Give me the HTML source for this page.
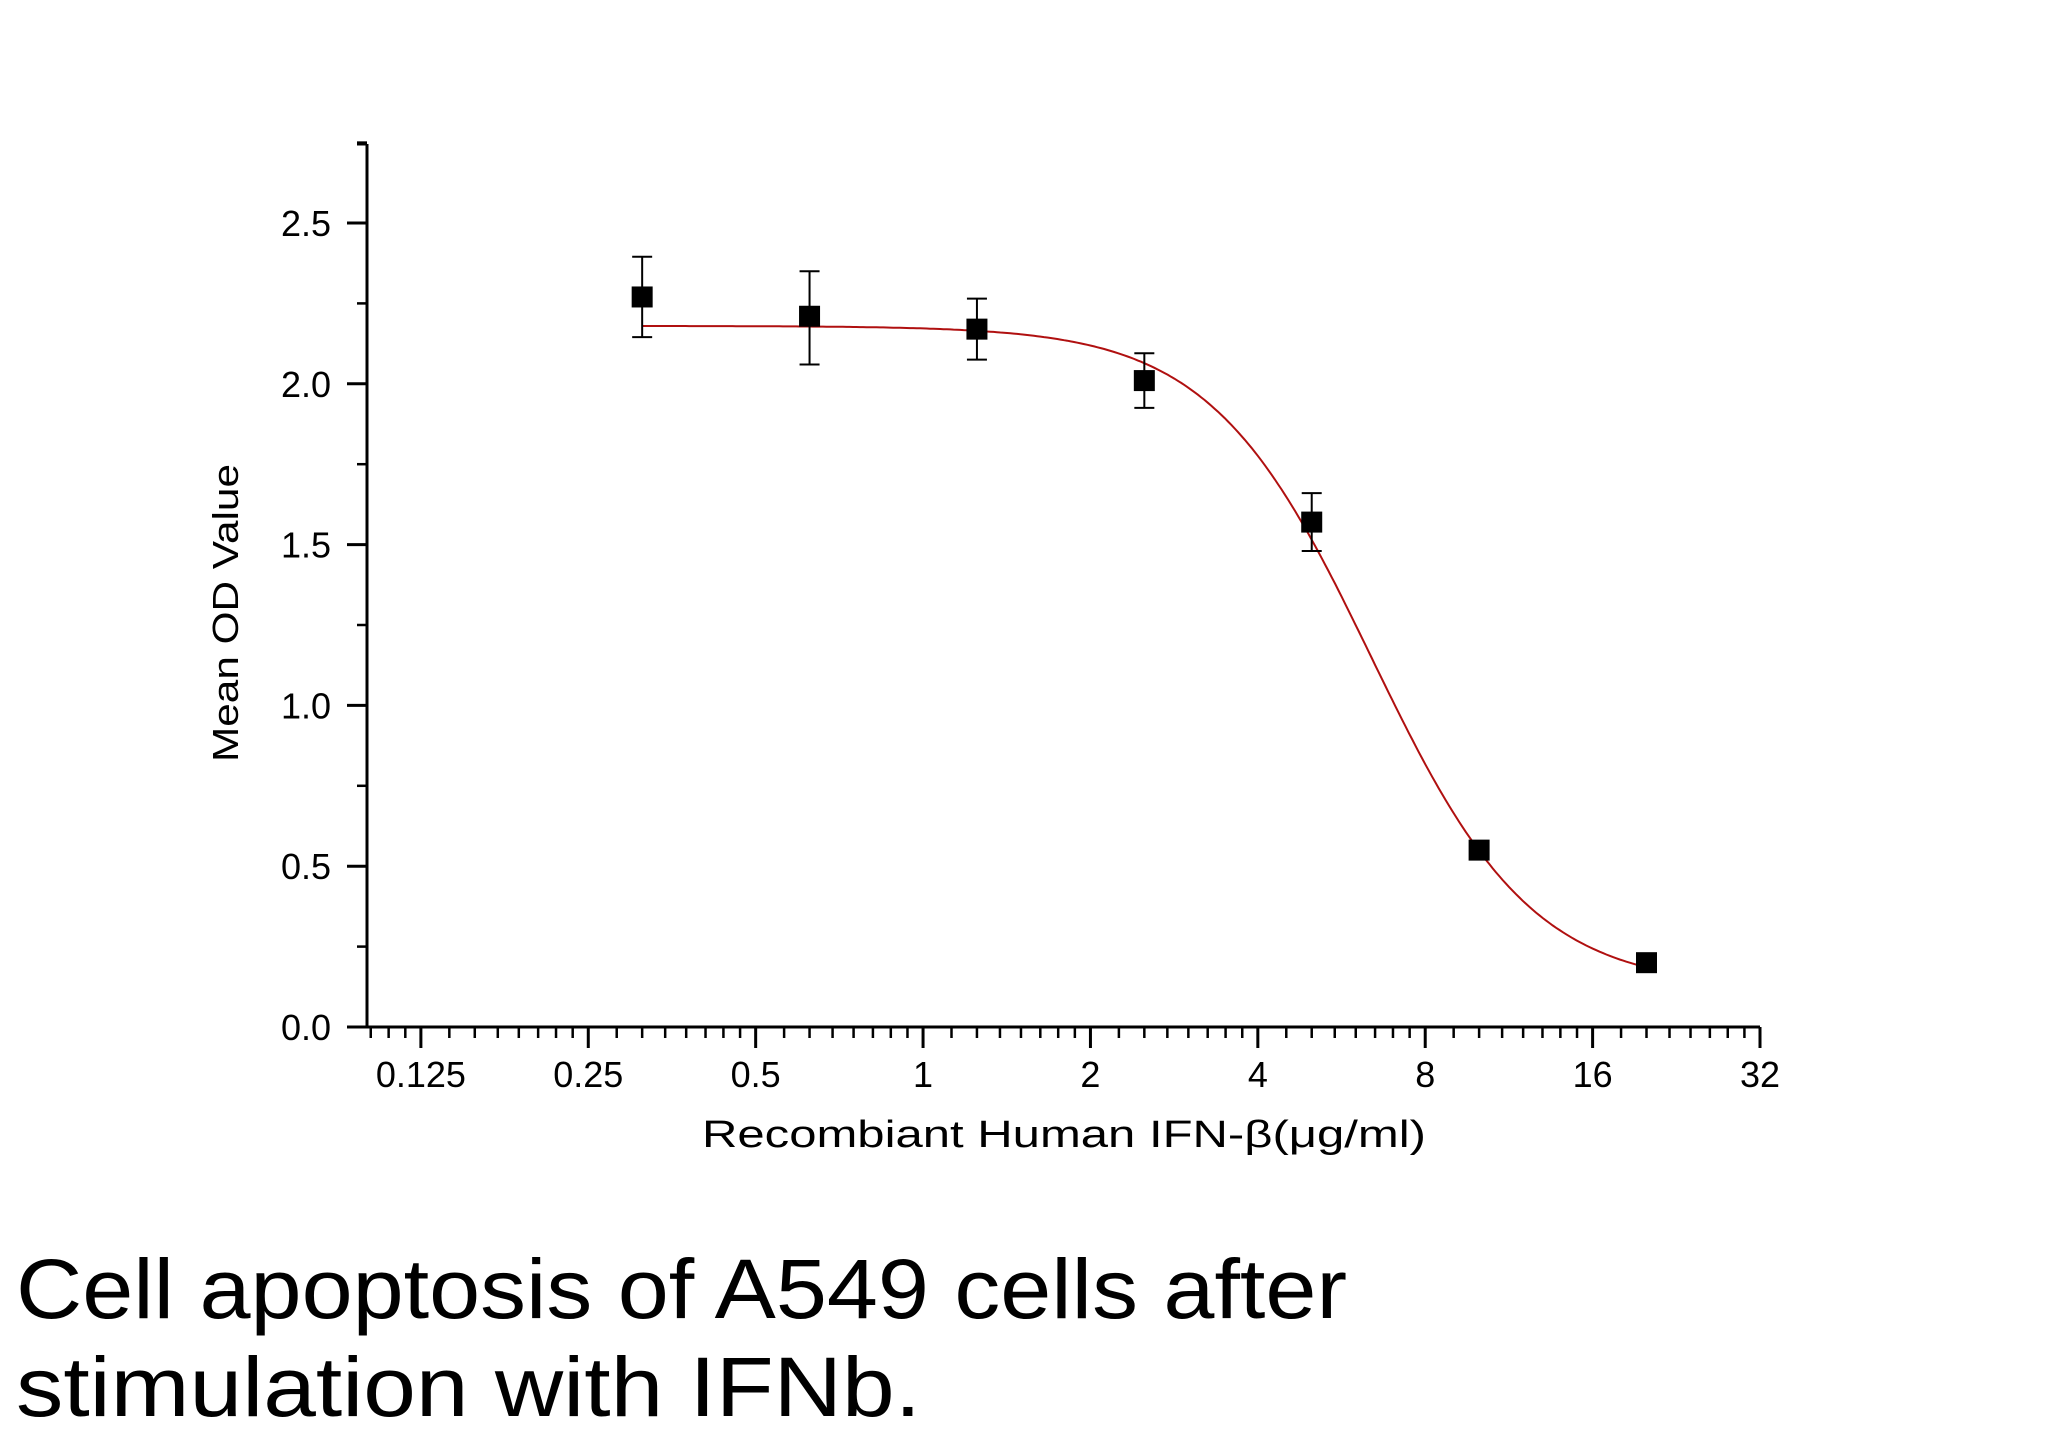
<!DOCTYPE html>
<html><head><meta charset="utf-8"><style>
html,body{margin:0;padding:0;background:#fff;}
svg{display:block;}
text{font-family:"Liberation Sans",sans-serif;fill:#000;}
</style></head><body>
<svg id="chart" width="2046" height="1456" viewBox="0 0 2046 1456" xmlns="http://www.w3.org/2000/svg">
<g id="axes"></g>
<g id="curve"></g>
<g id="points"></g>
<text x="238" y="613" font-size="36" text-anchor="middle" transform="rotate(-90 238 613)" textLength="298" lengthAdjust="spacingAndGlyphs">Mean OD Value</text>
<text x="1064" y="1147" font-size="38" text-anchor="middle" textLength="724" lengthAdjust="spacingAndGlyphs">Recombiant Human IFN-β(μg/ml)</text>
<text x="16" y="1318" font-size="84" textLength="1331" lengthAdjust="spacingAndGlyphs">Cell apoptosis of A549 cells after</text>
<text x="16" y="1416" font-size="84" textLength="905" lengthAdjust="spacingAndGlyphs">stimulation with IFNb.</text>
</svg>
<script>
const doses=[0.3125,0.625,1.25,2.5,5,10,20];
const means=[2.27,2.21,2.17,2.01,1.57,0.55,0.20];
const errUp=[0.125,0.14,0.095,0.085,0.09,0.02,0.01];
const errDn=[0.125,0.15,0.095,0.085,0.09,0.02,0.01];
const xTickLabels=["0.125","0.25","0.5","1","2","4","8","16","32"];
const xTickValues=[0.125,0.25,0.5,1,2,4,8,16,32];
const yTickLabels=["0.0","0.5","1.0","1.5","2.0","2.5"];
const yTickValues=[0,0.5,1,1.5,2,2.5];
const fitTop=[2.18];const fitBottom=[0.12];const fitEC50=[6.4];const fitHill=[3.0];
const NS="http://www.w3.org/2000/svg";
const X0=367,X1=1760,Y0=1027,YT=144;
const lx0=Math.log2(0.1),lx1=Math.log2(32);
function xs(v){return X0+(Math.log2(v)-lx0)/(lx1-lx0)*(X1-X0);}
function ys(v){return Y0-v*321.6;}
function mk(tag,at,parent){const e=document.createElementNS(NS,tag);for(const k in at)e.setAttribute(k,at[k]);parent.appendChild(e);return e;}
const ax=document.getElementById('axes');
let e=mk('line',{x1:X0,y1:YT,x2:X0,y2:Y0+1.5,stroke:'#000','stroke-width':3},ax);


e=mk('line',{x1:X0-1.5,y1:Y0,x2:X1,y2:Y0,stroke:'#000','stroke-width':3},ax);


mk('line',{x1:X0,y1:YT,x2:X0-10,y2:YT,stroke:'#000','stroke-width':3},ax);
for(let v=0.25;v<2.8;v+=0.5){mk('line',{x1:X0,y1:ys(v),x2:X0-10,y2:ys(v),stroke:'#000','stroke-width':2.5},ax);}
yTickValues.forEach((v,i)=>{
 mk('line',{x1:X0,y1:ys(v),x2:X0-20,y2:ys(v),stroke:'#000','stroke-width':3},ax);
 const t=mk('text',{x:331,y:ys(v)+13,'font-size':36,'text-anchor':'end'},ax);t.textContent=yTickLabels[i];
 
 
});
for(let a=0.0625;a<32;a*=2){for(let i=1;i<8;i++){const v=a*(1+i/8);if(v>0.1&&v<32)mk('line',{x1:xs(v),y1:Y0,x2:xs(v),y2:Y0+11,stroke:'#000','stroke-width':2.5},ax);}}
xTickValues.forEach((v,i)=>{
 mk('line',{x1:xs(v),y1:Y0,x2:xs(v),y2:Y0+21,stroke:'#000','stroke-width':3},ax);
 const t=mk('text',{x:xs(v),y:1087,'font-size':36,'text-anchor':'middle'},ax);t.textContent=xTickLabels[i];
 
 
});
let d='';const a0=Math.log2(doses[0]),a1=Math.log2(doses[doses.length-1]);
for(let k=0;k<=300;k++){const l=a0+(a1-a0)*k/300;const x=Math.pow(2,l);
 const y=fitBottom[0]+(fitTop[0]-fitBottom[0])/(1+Math.pow(x/fitEC50[0],fitHill[0]));
 d+=(k?'L':'M')+xs(x).toFixed(1)+' '+ys(y).toFixed(1);}
e=mk('path',{d:d,fill:'none',stroke:'#b01010','stroke-width':2},document.getElementById('curve'));


const pg=document.getElementById('points');
doses.forEach((v,i)=>{
 const x=xs(v),y=ys(means[i]),yu=ys(means[i]+errUp[i]),yd=ys(means[i]-errDn[i]);
 const g=mk('g',{},pg);
 
 
 mk('line',{x1:x,y1:yu,x2:x,y2:yd,stroke:'#000','stroke-width':2},g);
 mk('line',{x1:x-10,y1:yu,x2:x+10,y2:yu,stroke:'#000','stroke-width':2},g);
 mk('line',{x1:x-10,y1:yd,x2:x+10,y2:yd,stroke:'#000','stroke-width':2},g);
 mk('rect',{x:x-10.5,y:y-10.5,width:21,height:21,fill:'#000'},g);
});
</script>
</body></html>
